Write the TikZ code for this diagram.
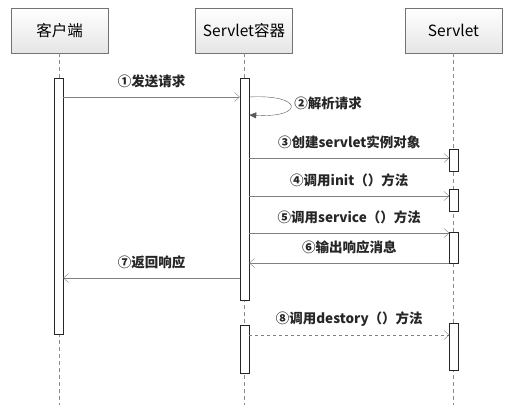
\documentclass[tikz,border=0pt]{standalone}
\usepackage{fontspec}
\setmainfont{Noto Sans CJK SC}
\usetikzlibrary{arrows.meta}
\begin{document}
\begin{tikzpicture}
  [x=1pt,y=-1pt,
   head/.style={draw=black!55, top color=white, bottom color=black!10,
     minimum width=97pt, minimum height=45pt, font=\fontsize{15.5}{18}\selectfont},
   bar/.style={draw=black!85, fill=white, inner sep=0pt, minimum width=9pt},
   life/.style={draw=black!45, dash pattern=on 4pt off 3pt},
   msg/.style={draw=black!50, -{Straight Barb[open, length=5pt, width=9pt]}},
   lbl/.style={font=\fontsize{13.5}{15}\selectfont\bfseries, text=black!85}]
  \useasboundingbox (0,0) rectangle (513,417);

  \node[head] (h1) at (59.5,30.5)  {客户端};
  \node[head] (h2) at (244,30.5)   {Servlet容器};
  \node[head] (h3) at (453.5,30.5) {Servlet};

  \coordinate (bot) at (0,405);
  \foreach \h in {h1,h2,h3}
    \draw[life] (\h.south) -- (\h |- bot);

  \foreach \n/\x/\ya/\yb in {c1/58.5/78/334, s1/244.5/78/300, s2/244.5/325/373,
      v1/454/149/171, v2/454/189/211, v3/454/232/263, v4/454/323/370}
    \node[bar, minimum height={\yb-\ya}] (\n) at (\x,{(\ya+\yb)/2}) {};

  \foreach \i/\y in {1/97,2/115,3/158,4/196,5/233,6/263,7/278,8/335}
    \coordinate (m\i) at (0,\y);

  \foreach \from/\to/\m/\t in {c1.east/s1.west/m1/①发送请求,
      s1.east/v1.west/m3/③创建servlet实例对象, s1.east/v2.west/m4/④调用init（）方法,
      s1.east/v3.west/m5/⑤调用service（）方法, v3.west/s1.east/m6/⑥输出响应消息,
      s1.west/c1.east/m7/⑦返回响应}
    \draw[msg] (\from |- \m) -- node[lbl, above=5.5pt] {\t} (\to |- \m);

  \draw[draw=black!65, -{Triangle[length=7pt, width=6pt]}] (s1.east |- m1)
    .. controls +(55,-3) and +(55,3) .. node[lbl, pos=.4, right=2pt] {②解析请求} (s1.east |- m2);

  \draw[msg, dashed] (s2.east |- m8) -- node[lbl, above=5.5pt] {⑧调用destory（）方法} (v4.west |- m8);

\end{tikzpicture}
\end{document}
